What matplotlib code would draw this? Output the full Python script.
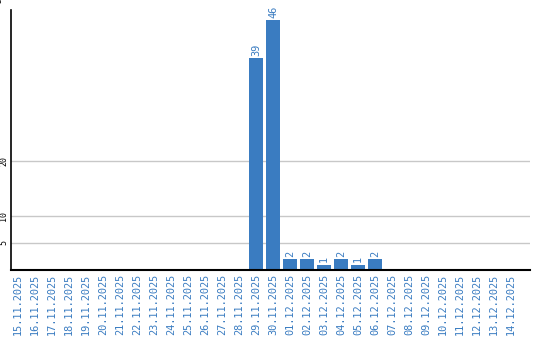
import numpy as np
import matplotlib
matplotlib.use("Agg")
import matplotlib.pyplot as plt

dates = ['15.11.2025', '16.11.2025', '17.11.2025', '18.11.2025', '19.11.2025',
         '20.11.2025', '21.11.2025', '22.11.2025', '23.11.2025', '24.11.2025',
         '25.11.2025', '26.11.2025', '27.11.2025', '28.11.2025', '29.11.2025',
         '30.11.2025', '01.12.2025', '02.12.2025', '03.12.2025', '04.12.2025',
         '05.12.2025', '06.12.2025', '07.12.2025', '08.12.2025', '09.12.2025',
         '10.12.2025', '11.12.2025', '12.12.2025', '13.12.2025', '14.12.2025']
counts = [0, 0, 0, 0, 0, 0, 0, 0, 0, 0, 0, 0, 0, 0, 39,
          46, 2, 2, 1, 2, 1, 2, 0, 0, 0, 0, 0, 0, 0, 0]
yticks = [5, 10, 20]
top_tick = 50

bar_color = '#3a7cc1'
text_color = '#3a7cc1'
mono = 'DejaVu Sans Mono'

fig = plt.figure(figsize=(5.4, 3.4), dpi=100)
ax = fig.add_axes([11 / 540, 70 / 340, 519 / 540, 260 / 340])

x = np.arange(len(dates))
bars = ax.bar(x, counts, width=0.82, color=bar_color, zorder=3)

for xi, v in zip(x, counts):
    if v > 0:
        ax.text(xi, v + 0.4, str(v), rotation=90, ha='center', va='bottom',
                color=text_color, fontsize=7.4, family=mono, zorder=4)

ax.set_xlim(-0.41, 30.1)
ax.set_ylim(0, 47.85)
ax.set_xticks(x)
ax.set_xticklabels(dates, rotation=90, family=mono, fontsize=7.4, color=text_color)
ax.set_yticks(yticks)
ax.set_yticklabels([str(t) for t in yticks], rotation=90, va='center',
                   family=mono, fontsize=6, color='black')
# the top tick sits just above the plotting area
ax.text(-0.015, top_tick, str(top_tick), transform=ax.get_yaxis_transform(),
        rotation=90, ha='right', va='center', family=mono, fontsize=6,
        color='black', clip_on=False)

ax.tick_params(axis='both', length=0)
ax.tick_params(axis='x', pad=3)
ax.tick_params(axis='y', pad=2)
ax.grid(axis='y', color='#c8c8c8', lw=1, zorder=0)
for spine in ('top', 'right'):
    ax.spines[spine].set_visible(False)
ax.spines['left'].set_linewidth(1.2)
ax.spines['bottom'].set_linewidth(1.5)
ax.spines['left'].set_zorder(5)
ax.spines['bottom'].set_zorder(5)

fig.savefig('out.png', dpi=100)
